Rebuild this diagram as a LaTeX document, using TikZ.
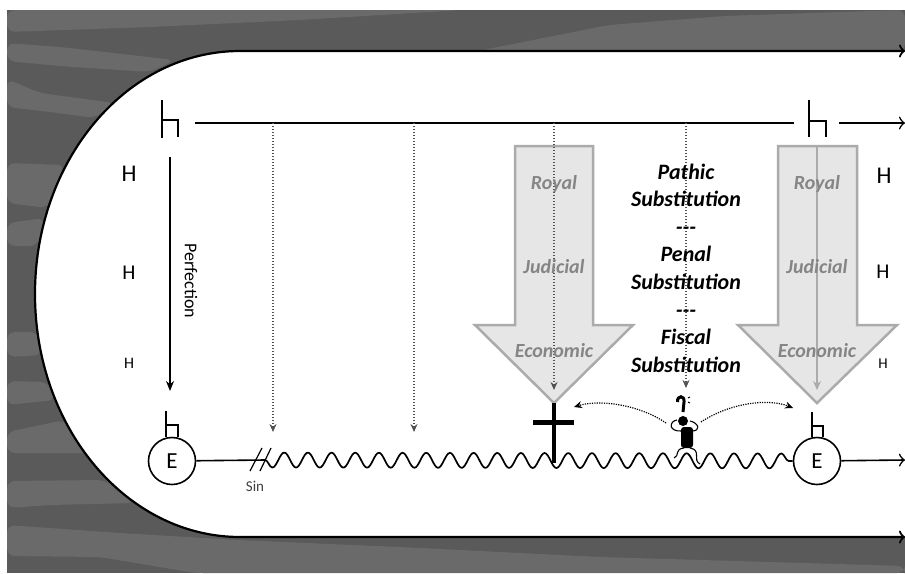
\documentclass[tikz,border=0pt]{standalone}
\usepackage{fontspec}
\setmainfont{Carlito}
\usepackage{tikz}
\usetikzlibrary{arrows.meta, decorations.pathmorphing}
\definecolor{banddark}{HTML}{5A5A5A}
\definecolor{bandlight}{HTML}{6A6A6A}
\definecolor{arrowfill}{HTML}{E6E6E6}
\definecolor{arrowedge}{HTML}{ABABAB}
\definecolor{wordgray}{HTML}{858585}
\tikzstyle{band} = [fill=bandlight, draw=none, rounded corners=8pt]
\tikzstyle{outline} = [line width=2.2pt,<->,>={Classical TikZ Rightarrow[length=6pt,width=13pt]}]
\tikzstyle{arrow} = [line width=1.6pt,->,>={Stealth[length=10pt,width=8pt]}]
\tikzstyle{openarrow} = [line width=1.6pt,->,>={Classical TikZ Rightarrow[length=6pt,width=13pt]}]
\tikzstyle{plain} = [line width=1.6pt]
\tikzstyle{hookline} = [line width=2.3pt]
\tikzstyle{dots} = [line width=1.4pt,dash pattern=on 1.4pt off 1.6pt,black!68,->,>={Stealth[length=8pt,width=7pt]}]
\tikzstyle{swing} = [line width=1.2pt,dash pattern=on 1.2pt off 1.2pt,->,>={Stealth[length=8pt,width=7pt]}]
\tikzstyle{bigarrow} = [line width=2.5pt, draw=arrowedge, fill=arrowfill, line join=miter]
\tikzstyle{earth} = [circle, draw=black, line width=1.6pt, fill=white, minimum size=47pt, inner sep=0pt, font=\fontsize{23}{23}\selectfont]
\tikzstyle{wave} = [line width=1.7pt, line join=round, decorate, decoration={snake, segment length=23.67pt, amplitude=7.5pt, mirror}]
\tikzstyle{way} = [text=wordgray, font=\fontsize{20}{20}\selectfont\bfseries\itshape]
\tikzstyle{subst} = [align=center, font=\fontsize{22}{27.6}\selectfont\bfseries\itshape]

\begin{document}
\begin{tikzpicture}[x=1pt,y=-1pt]
				\useasboundingbox (0,0) rectangle (905,573);
				\fill [banddark] (7,10) rectangle (905,573);
				\fill [band] (7,10) -- (7,32) -- (150,27) -- (300,20) -- (462,10) -- cycle;
				\fill [band] (7,43) -- (60,47) -- (175,60) -- (150,72) -- (60,66) -- (7,61) -- cycle;
				\fill [band] (7,79) -- (40,93) -- (115,103) -- (95,118) -- (50,112) -- (7,107) -- cycle;
				\fill [band] (7,163) -- (65,165) -- (48,208) -- (7,203) -- cycle;
				\fill [band] (7,223) -- (45,218) -- (38,246) -- (7,246) -- cycle;
				\fill [band] (7,332) -- (38,332) -- (42,355) -- (7,357) -- cycle;
				\fill [band] (7,381) -- (48,382) -- (56,400) -- (7,405) -- cycle;
				\fill [band] (7,432) -- (65,420) -- (90,453) -- (7,453) -- cycle;
				\fill [band] (7,481) -- (105,480) -- (135,503) -- (50,505) -- (7,508) -- cycle;
				\fill [band] (7,525) -- (120,533) -- (237,540) -- (400,547) -- (600,557) -- (905,566) -- (905,573) -- (195,573) -- (100,557) -- (7,556) -- cycle;
				\fill [band] (478,51) -- (609,25) -- (725,16) -- (840,12) -- (905,10) -- (905,51) -- cycle;
				
				\coordinate (topend) at (905,51);
				\coordinate (topbend) at (240,51);
				\coordinate (lowend) at (905,537);
				\fill [white] (topend) -- (topbend) arc [start angle=90, end angle=270, x radius=205pt, y radius=243pt] -- (lowend) -- cycle;
				\draw [outline] (topend) -- (topbend) arc [start angle=90, end angle=270, x radius=205pt, y radius=243pt] -- (lowend);
				
				\draw [bigarrow] (515,146) -- (593,146) -- (593,325) -- (633,325) -- (554,403) -- (475,325) -- (515,325) -- cycle;
				\draw [bigarrow] (778,146) -- (857,146) -- (857,325) -- (897,325) -- (817,403) -- (738,325) -- (778,325) -- cycle;
				
				\coordinate (heavenstart) at (195,123);
				\coordinate (heavenstop) at (794,123);
				\coordinate (heavenon) at (839,123);
				\coordinate (heavenend) at (905,123);
				\coordinate (perfstart) at (170,157);
				\coordinate (perfend) at (170,391);
				\coordinate (dotone) at (273,123);
				\coordinate (dotoneend) at (273,432);
				\coordinate (dottwo) at (414,123);
				\coordinate (dottwoend) at (414,432);
				\coordinate (dotthree) at (554,123);
				\coordinate (dotthreeend) at (554,390);
				\coordinate (dotfour) at (686,123);
				\coordinate (dotfourend) at (686,388);
				\coordinate (graystart) at (817,147);
				\coordinate (grayend) at (817,390);
				\coordinate (sinend) at (265,460);
				\coordinate (earthend) at (905,460);
				\coordinate (crosstop) at (554,403);
				\coordinate (crossfoot) at (554,463);
				\coordinate (crossleft) at (533,422);
				\coordinate (crossright) at (574,422);
				\coordinate (manleft) at (666,423);
				\coordinate (manright) at (701,422);
				\coordinate (swingleft) at (574,407);
				\coordinate (swingright) at (793,408);
				
				\node (eleft) [earth] at (172,461) {E};
				\node (eright) [earth] at (817,461) {E};
				
				\draw [plain] (heavenstart) -- (heavenstop);
				\draw [openarrow] (heavenon) -- (heavenend);
				\draw [arrow] (perfstart) -- (perfend);
				\draw [dots] (dotone) -- (dotoneend);
				\draw [dots] (dottwo) -- (dottwoend);
				\draw [dots] (dotthree) -- (dotthreeend);
				\draw [dots] (dotfour) -- (dotfourend);
				\draw [line width=1.4pt,arrowedge,->,>={Stealth[length=9pt,width=8pt]}] (graystart) -- (grayend);
				\draw [plain] (eleft) -- (sinend);
				\draw [wave] (sinend) -- (eright);
				\draw [openarrow] (eright) -- (earthend);
				\draw [line width=4.5pt] (crosstop) -- (crossfoot);
				\draw [line width=5pt] (crossleft) -- (crossright);
				\draw [swing] (manleft) .. controls (640,405) and (600,399) .. (swingleft);
				\draw [swing] (manright) .. controls (730,403) and (768,398) .. (swingright);
				
				% the h marks
				\draw [hookline] (162,100) -- (162,138) (162,120) -- (178,120) -- (178,137);
				\draw [hookline] (809,100) -- (809,137) (809,121) -- (826,121) -- (826,137);
				\draw [plain] (166,411) -- (166,437) (166,425) -- (178,425) -- (178,437);
				\draw [plain] (812,412) -- (812,437) (812,426) -- (823,426) -- (823,437);
				
				% sin strokes
				\draw [line width=1.2pt] (250,471) -- (262,448);
				\draw [line width=1.2pt] (260,471) -- (271,448);
				
				% little man
				\fill (683,421) circle (5pt);
				\fill [rounded corners=3pt] (681,448) -- (681,427) -- (693,427) -- (693,448) -- cycle;
				\draw [line width=1.1pt] (682,431) .. controls (668,432) and (669,421) .. (677,420);
				\draw [line width=1.1pt] (692,431) .. controls (701,431) and (699,423) .. (690,421);
				\draw [line width=1.1pt] (684,448) .. controls (674,449) and (680,456) .. (674,458);
				\draw [line width=1.1pt] (690,448) .. controls (702,450) and (692,460) .. (700,464);
				\draw [line width=3pt] (677.5,402) .. controls (677,395) and (685,395) .. (684,402) -- (683,412);
				\draw [line width=1pt] (688,398) -- (690,397) (688,402) -- (690,403);
				
				\node (royala) [way] at (554,184) {Royal};
				\node (judiciala) [way] at (554,267) {Judicial};
				\node (economica) [way] at (554,351) {Economic};
				\node (royalb) [way] at (817,184) {Royal};
				\node (judicialb) [way] at (817,267) {Judicial};
				\node (economicb) [way] at (817,351) {Economic};
				\node (theories) [subst] at (686,268) {Pathic\\Substitution\\-{}-{}-\\Penal\\Substitution\\-{}-{}-\\Fiscal\\Substitution};
				
				\node (hone) [font=\fontsize{24}{24}\selectfont] at (129,174) {H};
				\node (htwo) [font=\fontsize{21}{21}\selectfont] at (129,273) {H};
				\node (hthree) [font=\fontsize{16}{16}\selectfont] at (129,363) {H};
				\node (hfour) [font=\fontsize{24}{24}\selectfont] at (884,176) {H};
				\node (hfive) [font=\fontsize{21}{21}\selectfont] at (883,272) {H};
				\node (hsix) [font=\fontsize{15}{15}\selectfont] at (883,364) {H};
				\node (perf) [rotate=-90, font=\fontsize{18}{18}\selectfont] at (191,281) {Perfection};
				\node (sin) [text=black!75, font=\fontsize{15}{15}\selectfont] at (255,486) {Sin};
				
\end{tikzpicture}
\end{document}
